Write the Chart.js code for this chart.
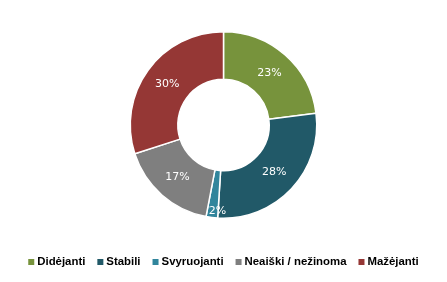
<!DOCTYPE html>
<html>
<head>
<meta charset="utf-8">
<script src="https://cdn.jsdelivr.net/npm/chart.js@4/dist/chart.umd.min.js"></script>
<style>
  html, body { margin: 0; padding: 0; background: #fff; }
  #wrap { width: 447px; height: 282px; position: relative; }
</style>
</head>
<body>
<div id="wrap"><canvas id="chart"></canvas></div>
<script>
// Kategorijos ir reikšmės (%)
const CATEGORIES = ["Didėjanti", "Stabili", "Svyruojanti", "Neaiški / nežinoma", "Mažėjanti"];
const VALUES = [23, 28, 2, 17, 30];
const COLORS = ["#77933C", "#215968", "#31859C", "#7F7F7F", "#953735"];

// Procentų užrašai ant segmentų
const sliceLabels = {
  id: 'sliceLabels',
  afterDatasetsDraw(chart) {
    const ctx = chart.ctx;
    const meta = chart.getDatasetMeta(0);
    ctx.save();
    ctx.font = '11px "DejaVu Sans", sans-serif';
    ctx.fillStyle = '#fff';
    ctx.textAlign = 'center';
    ctx.textBaseline = 'middle';
    meta.data.forEach((arc, i) => {
      const mid = (arc.startAngle + arc.endAngle) / 2;
      // mažas segmentas -> užrašas prie išorinio krašto
      const small = VALUES[i] < 5;
      const r = small ? arc.outerRadius - 6 : (arc.innerRadius + arc.outerRadius) / 2;
      const x = arc.x + Math.cos(mid) * r + (small ? 5 : 0);
      const y = arc.y + Math.sin(mid) * r;
      ctx.fillText(VALUES[i] + '%', x, y);
    });
    ctx.restore();
  }
};

// Legenda apačioje (viena eilutė, centruota)
const bottomLegend = {
  id: 'bottomLegend',
  afterDraw(chart) {
    const ctx = chart.ctx;
    const box = 6, gapText = 3, gapItem = 12, y = 262;
    ctx.save();
    ctx.font = 'bold 11.4px "Liberation Sans", sans-serif';
    ctx.textBaseline = 'middle';
    const widths = CATEGORIES.map(c => ctx.measureText(c).width);
    const total = widths.reduce((a, w) => a + box + gapText + w, 0) + gapItem * (CATEGORIES.length - 1);
    let x = (chart.width - total) / 2;
    CATEGORIES.forEach((c, i) => {
      ctx.fillStyle = COLORS[i];
      ctx.fillRect(x, y - box / 2, box, box);
      x += box + gapText;
      ctx.fillStyle = '#000';
      ctx.fillText(c, x, y);
      x += widths[i] + gapItem;
    });
    ctx.restore();
  }
};

new Chart(document.getElementById('chart'), {
  type: 'doughnut',
  data: {
    labels: CATEGORIES,
    datasets: [{
      data: VALUES,
      backgroundColor: COLORS,
      borderColor: '#fff',
      borderWidth: 1.5
    }]
  },
  options: {
    responsive: true,
    maintainAspectRatio: false,
    animation: false,
    cutout: '49%',
    layout: { padding: { top: 31, bottom: 63 } },
    plugins: {
      legend: { display: false },
      tooltip: { enabled: false }
    }
  },
  plugins: [sliceLabels, bottomLegend]
});
</script>
</body>
</html>
